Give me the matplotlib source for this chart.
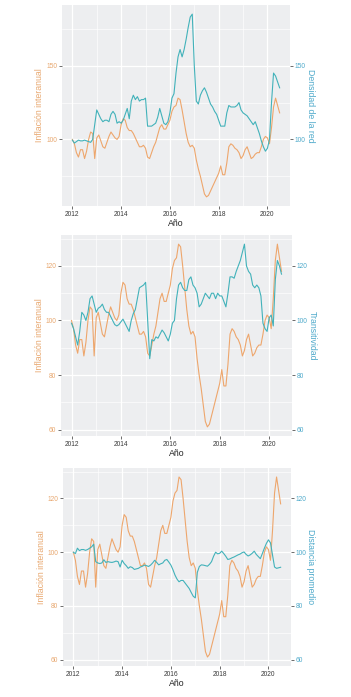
import numpy as np
import matplotlib
matplotlib.use('Agg')
import matplotlib.pyplot as plt
from matplotlib.ticker import MultipleLocator, FuncFormatter

plt.rcParams['font.family'] = ['Liberation Sans', 'DejaVu Sans']

# Monthly series, Jan 2012 .. Jul 2020
inflacion = [100, 97, 91, 88, 93, 93, 87, 92, 100, 105, 104, 87,
             101, 103, 99, 95, 94, 98, 102, 105, 103, 101, 100, 102,
             110, 114, 113, 108, 106, 106, 104, 101, 98, 95, 95, 96,
             94, 88, 87, 91, 95, 98, 103, 108, 110, 107, 107, 110,
             113, 119, 122, 123, 128, 127, 120, 112, 104, 98, 95, 96,
             94, 86, 80, 75, 69, 63, 61, 62, 65, 68, 71, 74,
             77, 82, 76, 76, 84, 95, 97, 96, 94, 93, 91, 87,
             89, 93, 95, 91, 87, 88, 90, 91, 91, 95, 100, 102,
             101, 97, 108, 122, 128, 123, 118]

densidad = [99.5, 97.5, 98.5, 99.5, 99, 99, 99.5, 99, 98.5, 98, 100, 110,
            120, 117, 114, 112, 113, 113, 112, 117, 119, 117, 111, 112,
            111, 113, 117, 121, 114, 126, 130, 127, 129, 126, 127, 127,
            128, 109, 109, 109, 110, 111, 115, 121, 116, 111, 110, 112,
            118, 128, 131, 145, 156, 161, 156, 161, 168, 176, 183, 185,
            150, 126, 124, 130, 133, 135, 132, 128, 124, 122, 119, 117,
            113, 109, 109, 109, 118, 123, 122, 122, 122, 123, 125, 120,
            118, 117, 116, 114, 112, 110, 112, 108, 104, 99, 95, 92,
            94, 100, 125, 145, 143, 139, 135]

transitividad = [99, 97, 94, 91, 96, 103, 102, 100, 103, 108, 109, 106,
                 103, 104.5, 105, 106, 104, 103, 103, 101.5, 100, 98.5, 98, 98.5,
                 99.5, 100.5, 99, 97.5, 96, 100, 102.5, 104, 108, 112, 112.5, 113,
                 114, 100, 86, 93, 92.5, 94, 93.5, 95, 96.5, 95.5, 94, 92.5,
                 95, 99, 100, 108, 113, 114, 112, 111, 111, 115, 116, 113,
                 112, 110, 105, 106, 108, 110, 109, 108, 110, 110, 108, 110,
                 109, 109, 107, 105, 110, 116, 116, 115.5, 118, 120, 122, 125,
                 128, 120, 118, 117, 113, 112, 113, 112, 109, 99, 97, 96,
                 101, 102, 98, 115, 122, 120, 117]

distancia = [100, 99.5, 101.5, 100.6, 101, 101, 100.7, 101, 101.5, 102, 103, 96.5,
             96, 95.8, 96, 97.2, 96.2, 96.5, 96.3, 96.2, 96.4, 96.7, 96.5, 94.5,
             97, 95.8, 95, 94, 94.6, 94.3, 93.6, 93.8, 94, 94.5, 94.8, 95.2,
             95, 94.7, 95.2, 96, 97, 96.2, 95.3, 95.7, 96, 97, 97.3, 96.3,
             95.2, 93.5, 91.5, 90, 89, 89.5, 89.5, 88.5, 87.5, 86.5, 85, 83.6,
             83, 92.5, 94.7, 95.3, 95.2, 95, 94.8, 95.5, 96.5, 98.5, 100, 99.4,
             99.6, 100.4, 99.5, 98.5, 97.3, 97.5, 97.9, 98.2, 98.6, 99, 99.3, 99.8,
             100.1, 99.2, 98.6, 99, 99.6, 100.4, 99.2, 98.4, 97.6, 99.5, 101.5, 103.3,
             104.6, 103.5, 99, 94.5, 94, 94.2, 94.4]

fechas = 2012 + np.arange(len(inflacion)) / 12.0

etiqueta_izq = "Inflación interanual"
etiqueta_x = "Año"
paneles = [
    (densidad, "Densidad de la red", 50),
    (transitividad, "Transitividad", 20),
    (distancia, "Distancia promedio", 20),
]

COL_INF = '#EDA66C'
COL_INF_TXT = '#E8A870'
COL_RED = '#42B2BA'
COL_RED_TXT = '#4FAACB'
COL_BG = '#EDEEF0'

W, H = 351, 697
fig = plt.figure(figsize=(W / 100, H / 100), dpi=100)

# axes rectangles in pixels: left, top, right, bottom
rects = [(62, 5, 290, 206), (61, 235, 292, 436), (63, 468, 291, 666)]

for (serie, etiqueta_der, paso), (l, t, r, b) in zip(paneles, rects):
    ax = fig.add_axes([l / W, (H - b) / H, (r - l) / W, (b - t) / H])
    ax.set_facecolor(COL_BG)
    for s in ax.spines.values():
        s.set_visible(False)

    ax.plot(fechas, inflacion, color=COL_INF, lw=0.8, zorder=3)
    ax.plot(fechas, serie, color=COL_RED, lw=0.8, zorder=3)

    x0, x1 = fechas.min(), fechas.max()
    dx = 0.05 * (x1 - x0)
    allv = np.concatenate([inflacion, serie])
    y0, y1 = allv.min(), allv.max()
    dy = 0.05 * (y1 - y0)
    ax.set_ylim(y0 - dy, y1 + dy)

    ax.xaxis.set_major_locator(MultipleLocator(2))
    ax.xaxis.set_minor_locator(MultipleLocator(1))
    ax.xaxis.set_major_formatter(FuncFormatter(lambda v, p: f"{int(round(v))}"))
    ax.set_xlim(x0 - dx, x1 + dx)
    ax.yaxis.set_major_locator(MultipleLocator(paso))
    ax.yaxis.set_minor_locator(MultipleLocator(paso / 2))
    ax.grid(which='major', color='white', lw=0.9, zorder=0)
    ax.grid(which='minor', color='white', lw=0.45, zorder=0)
    ax.set_axisbelow(True)

    ax.tick_params(which='major', length=2, width=0.6, color='#555555',
                   labelsize=4.8, pad=1.5)
    ax.tick_params(which='minor', length=0)
    ax.tick_params(axis='y', labelcolor=COL_INF_TXT)
    ax.tick_params(axis='x', labelcolor='#3A3A3A')

    ax.set_xlabel(etiqueta_x, fontsize=6.3, color='#222222', va='center')
    ax.xaxis.set_label_coords(0.5, -18 / (b - t))
    ax.set_ylabel(etiqueta_izq, fontsize=6.3, color=COL_INF_TXT, va='center', ha='center')
    ax.yaxis.set_label_coords(-22 / (r - l), 0.5)

    ax2 = ax.twinx()
    ax2.set_ylim(ax.get_ylim())
    ax2.yaxis.set_major_locator(MultipleLocator(paso))
    for s in ax2.spines.values():
        s.set_visible(False)
    ax2.tick_params(which='major', length=2, width=0.6, color='#555555',
                    labelsize=4.8, pad=1.5, labelcolor=COL_RED_TXT)
    ax2.set_ylabel(etiqueta_der, fontsize=6.3, color=COL_RED_TXT, rotation=270,
                   va='center', ha='center')
    ax2.yaxis.set_label_coords(1 + 20 / (r - l), 0.5)

fig.savefig('out.png', dpi=100)
